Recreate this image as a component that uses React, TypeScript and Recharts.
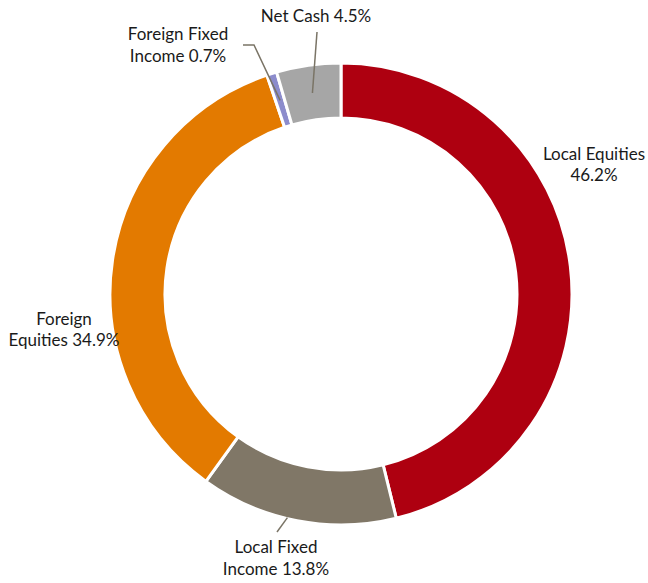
import { PieChart, Pie, Cell } from 'recharts';

const categories = [
  'Local Equities',
  'Local Fixed Income',
  'Foreign Equities',
  'Foreign Fixed Income',
  'Net Cash',
];
const shares = [46.2, 13.8, 34.9, 0.7, 4.5];
const labelLines = [
  ['Local Equities', '46.2%'],
  ['Local Fixed', 'Income 13.8%'],
  ['Foreign', 'Equities 34.9%'],
  ['Foreign Fixed', 'Income 0.7%'],
  ['Net Cash 4.5%'],
];

const COLORS = ['#AE0010', '#807767', '#E37A00', '#8C8CCC', '#A6A6A6'];

const data = categories.map((name, i) => ({ name, value: shares[i] }));

// label placement relative to pie centre; leader = [x, y] points, tip on slice via midAngle
const LAYOUT = [
  { x: 253, y: -134, gap: 21 },
  { x: -65, y: 259, gap: 22, leader: [[-64, 238]], tipR: 230, tipShift: -2.5 },
  { x: -277, y: 31, gap: 21 },
  { x: -163, y: -254, gap: 22, leader: [[-98, -249], [-87, -249]], tipR: 203, tipShift: 0 },
  { x: -25, y: -272, gap: 21, leader: [[-24, -262]], tipR: 203, tipShift: 0 },
];

const RAD = Math.PI / 180;

function renderLabel(props: any) {
  const { cx, cy, midAngle, index } = props;
  const cfg = LAYOUT[index];
  const lines = labelLines[index];
  let path = null;
  if (cfg.leader) {
    const a = (midAngle + cfg.tipShift) * RAD;
    const tx = cx + cfg.tipR * Math.cos(a);
    const ty = cy - cfg.tipR * Math.sin(a);
    const pts = cfg.leader.map(([x, y]) => `${cx + x},${cy + y}`);
    path = (
      <polyline
        points={[...pts, `${tx},${ty}`].join(' ')}
        fill='none'
        stroke='#7a7466'
        strokeWidth={1.5}
      />
    );
  }
  return (
    <g key={`lbl-${index}`}>
      {path}
      <text
        x={cx + cfg.x}
        y={cy + cfg.y}
        textAnchor='middle'
        fill='#1a1a1a'
        fontSize={17}
        fontFamily='Lato, sans-serif'
      >
        {lines.map((t, i) => (
          <tspan key={i} x={cx + cfg.x} y={cy + cfg.y + i * cfg.gap}>
            {t}
          </tspan>
        ))}
      </text>
    </g>
  );
}

export default function App() {
  return (
    <div style={{ position: 'absolute', left: 0, top: 0, background: '#fff' }}>
      <PieChart
        width={648}
        height={583}
        margin={{ top: 0, right: 0, bottom: 0, left: 0 }}
      >
        <Pie
          data={data}
          dataKey='value'
          nameKey='name'
          cx={341}
          cy={294}
          innerRadius={176}
          outerRadius={231}
          startAngle={90}
          endAngle={-270}
          stroke='#ffffff'
          strokeWidth={3}
          label={renderLabel}
          labelLine={false}
          isAnimationActive={false}
        >
          {data.map((_, i) => (
            <Cell key={`cell-${i}`} fill={COLORS[i]} />
          ))}
        </Pie>
      </PieChart>
    </div>
  );
}
